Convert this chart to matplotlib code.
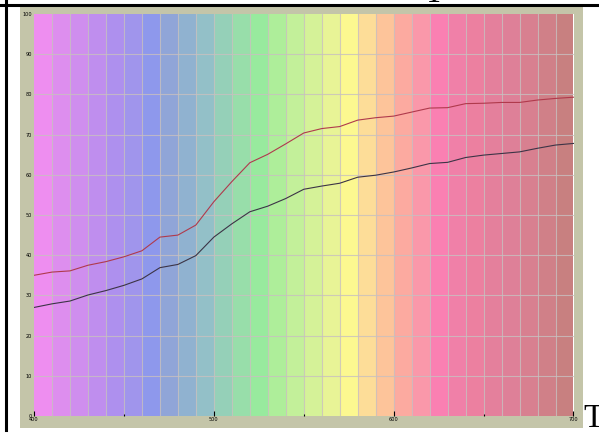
import matplotlib
matplotlib.use('Agg')
import matplotlib.pyplot as plt
from matplotlib.patches import Rectangle
from matplotlib.lines import Line2D
import numpy as np

# wavelength (nm) and the two reflectance curves
wavelength = [400, 410, 420, 430, 440, 450, 460, 470, 480, 490, 500,
              510, 520, 530, 540, 550, 560, 570, 580, 590, 600,
              610, 620, 630, 640, 650, 660, 670, 680, 690, 700]
upper = [35.0, 35.8, 36.1, 37.5, 38.4, 39.6, 41.1, 44.5, 45.0, 47.5, 53.3,
         58.3, 63.0, 65.1, 67.7, 70.4, 71.5, 72.0, 73.6, 74.2, 74.6,
         75.6, 76.6, 76.7, 77.7, 77.8, 78.0, 78.0, 78.6, 79.0, 79.3]
lower = [27.0, 27.9, 28.6, 30.1, 31.2, 32.5, 34.1, 36.9, 37.7, 39.9, 44.5,
         47.8, 50.8, 52.2, 54.1, 56.4, 57.2, 57.9, 59.4, 59.9, 60.7,
         61.7, 62.8, 63.1, 64.3, 64.9, 65.3, 65.7, 66.6, 67.4, 67.8]

# 10 nm colour bands behind the plot
band_start = wavelength[:-1]
band_colors = ['#EE8EF0', '#DD8EEE', '#CF8EEE', '#BF8EEE', '#AE90EE', '#A095EC',
               '#8E98EC', '#90A5D8', '#90B2D0', '#93C0C8', '#95D0B8', '#98DEAA',
               '#98EA9E', '#AEEE9A', '#C3F09A', '#D5F298', '#E8F496', '#FCF890',
               '#FDDD98', '#FDC49A', '#FCAAA0', '#FA98AA', '#FA80B2', '#F080A8',
               '#EC80A0', '#E4809C', '#DE8098', '#D88090', '#D08088', '#C88080']

x_ticks = [400, 500, 600, 700]
x_minor = [450, 550, 650]
y_ticks = list(range(0, 101, 10))

W, H = 599, 433
fig = plt.figure(figsize=(W / 100, H / 100), dpi=100)
fig.patch.set_facecolor('white')

# beige frame and black page borders
fig.add_artist(Rectangle((20 / W, 1 - 428 / H), 563 / W, 422 / H,
                         transform=fig.transFigure, facecolor='#C4C5A9',
                         edgecolor='none', zorder=0))
fig.add_artist(Line2D([0, 1], [1 - 5 / H, 1 - 5 / H], transform=fig.transFigure,
                      color='black', linewidth=2.2))
fig.add_artist(Line2D([6 / W, 6 / W], [1 - 430 / H, 1], transform=fig.transFigure,
                      color='black', linewidth=2.2))

ax = fig.add_axes([34 / W, 1 - 416 / H, 539.5 / W, 402 / H])

for x0, c in zip(band_start, band_colors):
    ax.axvspan(x0, x0 + 10, color=c, linewidth=0, zorder=0)
for x0 in band_start[1:]:
    ax.axvline(x0, color='#C8C0C0', linewidth=0.8, alpha=0.8, zorder=1)
for y0 in y_ticks[1:-1]:
    ax.axhline(y0, color='#C8C0C0', linewidth=0.8, alpha=0.8, zorder=1)

ax.plot(wavelength, upper, color='#B03A4C', linewidth=0.8, zorder=3)
ax.plot(wavelength, lower, color='#3C3446', linewidth=0.8, zorder=3)

ax.set_xlim(400, 700)
ax.set_ylim(0, 100)
ax.set_xticks(x_ticks)
ax.set_xticks(x_minor, minor=True)
ax.set_yticks(y_ticks)
ax.set_xticklabels([str(v) for v in x_ticks])
ax.set_yticklabels([str(v) for v in y_ticks])
ax.tick_params(axis='x', which='major', direction='in', length=3.8, width=0.8,
               color='black', labelsize=3.6, pad=0.6)
ax.tick_params(axis='x', which='minor', direction='in', length=1.4, width=0.8,
               color='black')
ax.tick_params(axis='y', length=0, labelsize=3.6, pad=1.6)
for s in ax.spines.values():
    s.set_visible(False)

# stray text of the surrounding page
fig.text(583 / W, 1 - 427 / H, 'T', fontsize=24, family='Liberation Serif',
         ha='left', va='baseline')
fig.text(434 / W, 1 - 2.5 / H, 'T', fontsize=24, family='Liberation Serif',
         ha='center', va='baseline')

fig.savefig('out.png', dpi=100)
